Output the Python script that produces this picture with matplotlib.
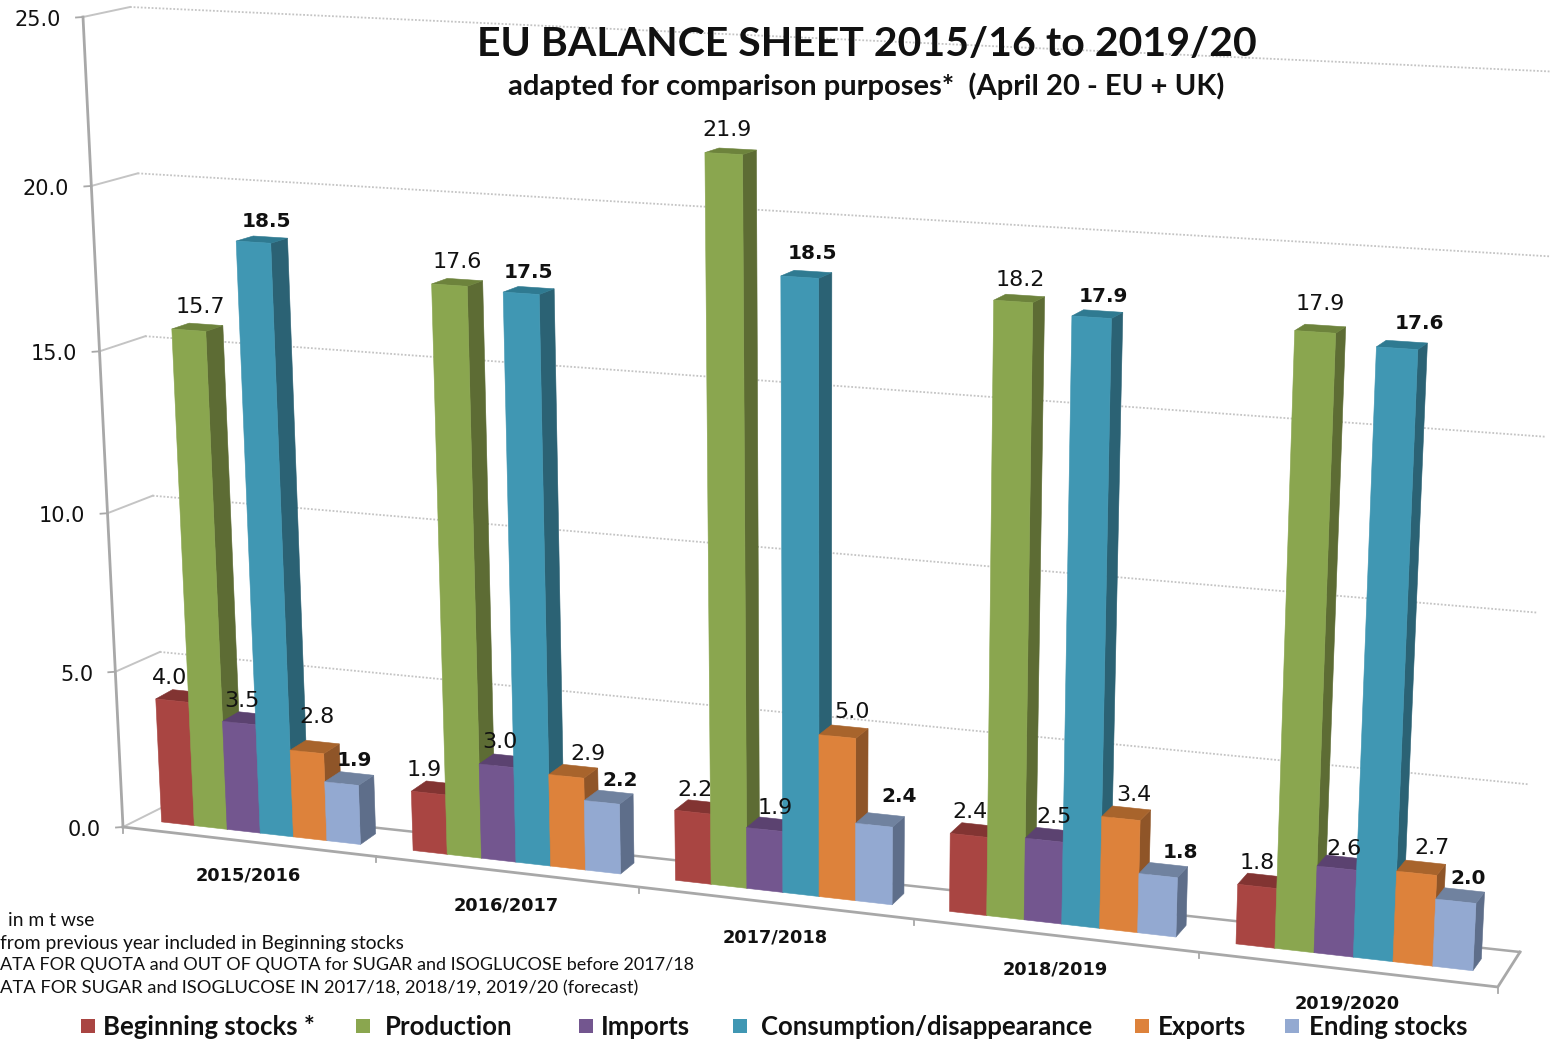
import numpy as np
import matplotlib
matplotlib.use("Agg")
import matplotlib.pyplot as plt
from matplotlib.patches import Polygon, Rectangle

# ---------- data ----------
years = ["2015/2016", "2016/2017", "2017/2018", "2018/2019", "2019/2020"]
beginning_stocks = [4.0, 1.9, 2.2, 2.4, 1.8]
production = [15.7, 17.6, 21.9, 18.2, 17.9]
imports_ = [3.5, 3.0, 1.9, 2.5, 2.6]
consumption = [18.5, 17.5, 18.5, 17.9, 17.6]
exports = [2.8, 2.9, 5.0, 3.4, 2.7]
ending_stocks = [1.9, 2.2, 2.4, 1.8, 2.0]
value_ticks = [0, 5, 10, 15, 20, 25]
series_names = ["Beginning stocks *", "Production", "Imports",
                "Consumption/disappearance", "Exports", "Ending stocks"]
notes = ["in m t wse",
         "from previous year included in Beginning stocks",
         "ATA FOR QUOTA and OUT OF QUOTA for SUGAR and ISOGLUCOSE before 2017/18",
         "ATA FOR SUGAR and ISOGLUCOSE IN 2017/18, 2018/19, 2019/20 (forecast)"]

series = [beginning_stocks, production, imports_, consumption, exports, ending_stocks]
bold_series = {3, 5}

# ---------- styles ----------
front_cols = ["#A94542", "#8AA64F", "#73568F", "#4097B3", "#DD823B", "#93A9D1"]
side_cols = ["#7E3331", "#5D6C34", "#553F6A", "#2B6274", "#8F5528", "#5E6E8A"]
top_cols = ["#823432", "#6D833C", "#5B4270", "#2F7A91", "#A8642C", "#70829F"]
GREY = "#A8A8A8"
LIGHT = "#C4C4C4"
SANS = "Lato"
NUM = "DejaVu Sans"
BAR_SHARE = 0.794
bar_w = BAR_SHARE / 6
# fine placement of the value labels (dx, dy), one row per series, one column per year
label_nudges = [
    [(-11, -1), (-12, -1), (-4, 0), (-5, -1), (-5, -1)],
    [(3, -3), (0, -3), (-4, -4), (1, -1), (0, -8)],
    [(-5, 0), (-4, -2), (4, 1), (4, -1), (3, 3)],
    [(5, -1), (0, -1), (6, -4), (6, -1), (18, -4)],
    [(2, -13), (15, 0), (9, -3), (8, -1), (11, -3)],
    [(5, -1), (11, 0), (19, -6), (17, -1), (8, 0)],
]


def fit_homography(anchors):
    A = []
    for a, b, x, y in anchors:
        A.append([a, b, 1, 0, 0, 0, -a * x, -b * x, -x])
        A.append([0, 0, 0, a, b, 1, -a * y, -b * y, -y])
    _, _, vt = np.linalg.svd(np.array(A, float))
    H = vt[-1].reshape(3, 3)
    return H / H[2, 2]


def apply_h(H, a, b):
    p = H @ np.array([a, b, 1.0])
    return p[0] / p[2], p[1] / p[2]


# plane of the bar fronts: (category position, value) -> figure pixels
front_plane = fit_homography([
    (0, 0, 161, 822), (0, 4, 156, 699),
    (bar_w, 15.7, 172, 328), (bar_w, 0, 194, 826),
    (3 * bar_w, 18.5, 236, 242), (3 * bar_w, 0, 260, 833),
    (BAR_SHARE, 0, 362, 844), (2, 0, 675, 881),
    (2 + bar_w, 21.9, 705, 152), (4, 0, 1235, 943),
    (4 + bar_w, 17.9, 1294, 330), (4 + 3 * bar_w, 17.6, 1377, 348),
    (4 + 3 * bar_w, 0, 1353, 957), (4 + BAR_SHARE, 0, 1474, 971),
])
# back wall: (0..1 along the wall, value)
back_wall = fit_homography([(0, 0, 167, 805), (0, 25, 130, 7), (1, 25, 1562, 72), (1, 0, 1520, 952)])
# side wall: (0 front .. 1 back, value)
side_wall = fit_homography([(0, 0, 123, 827), (0, 25, 83, 17), (1, 25, 130, 7), (1, 0, 167, 805)])


def front(u, v):
    return np.array(apply_h(front_plane, u, v))


def back(u, v):
    f = np.array(front(u, v))
    return f + np.array([(16.5 - 8 * u / 4.8) * (1 + 0.004 * v), -(10.5 + 0.3 * u) + 0.3 * v])


def floor_axis(t):
    x = (123 + 245.6 * t) / (1 - 0.0196 * t)
    return x, 827 + (x - 123) * 160 / 1375


fig = plt.figure(figsize=(15.5, 10.39), dpi=100, facecolor="white")
ax = fig.add_axes([0, 0, 1, 1])
ax.set_xlim(0, 1550)
ax.set_ylim(1039, 0)
ax.axis("off")

# ---------- walls and grid ----------
for v in value_ticks:
    a = apply_h(side_wall, 0, v)
    b = apply_h(side_wall, 1, v)
    c = apply_h(back_wall, 1, v)
    ax.plot([a[0] - 7, a[0]], [a[1] + 0.5, a[1]], color=GREY, lw=1.3, zorder=1)
    ax.plot([a[0], b[0]], [a[1], b[1]], color=LIGHT, lw=1.4, zorder=1)
    if v == 0:
        ax.plot([b[0], c[0]], [b[1], c[1]], color=GREY, lw=1.8, zorder=1)
    else:
        ax.plot([b[0], c[0]], [b[1], c[1]], color=LIGHT, lw=1.3, ls=(0, (1, 1)), zorder=1)
    ax.text(a[0] - 22, a[1] + 3, f"{v:.1f}", ha="right", va="center", fontsize=15, family=NUM, color="#111111")

ax.plot(*zip(apply_h(side_wall, 0, 0), apply_h(side_wall, 0, 25)), color=GREY, lw=2, zorder=1)
p0, p5 = floor_axis(0), floor_axis(5)
corner = apply_h(back_wall, 1, 0)
ax.plot([p0[0], p5[0], corner[0]], [p0[1], p5[1], corner[1]], color=GREY, lw=2, zorder=1)
for k in range(6):
    px, py = floor_axis(k)
    ax.plot([px, px], [py, py + 6], color=GREY, lw=1.3, zorder=1)

# ---------- bars ----------
z = 3
for c, year in enumerate(years):
    for s, vals in enumerate(series):
        v = vals[c]
        u0 = c + s * bar_w
        u1 = u0 + bar_w
        f = [front(u0, 0), front(u1, 0), front(u1, v), front(u0, v)]
        side = [front(u1, 0), back(u1, 0), back(u1, v), front(u1, v)]
        top = [front(u0, v), front(u1, v), back(u1, v), back(u0, v)]
        for poly, col in ((side, side_cols[s]), (top, top_cols[s]), (f, front_cols[s])):
            ax.add_patch(Polygon(poly, closed=True, facecolor=col, edgecolor=col, lw=0.4, zorder=z))
        z += 1

# ---------- value labels ----------
for c, year in enumerate(years):
    for s, vals in enumerate(series):
        v = vals[c]
        um = c + (s + 0.5) * bar_w
        ftop = front(um, v)
        btop = back(um, v)
        nx, ny = label_nudges[s][c]
        lx = (ftop[0] + btop[0]) / 2 + nx
        ly = (ftop[1] + btop[1]) / 2 - 17 + ny
        bold = s in bold_series
        ax.text(lx, ly, f"{v:.1f}", ha="center", va="center", fontsize=14.5 if bold else 16, family=NUM,
                fontweight="bold" if bold else "normal", color="#111111", zorder=200)

# ---------- category labels ----------
for k, year in enumerate(years):
    a = floor_axis(k)
    b = floor_axis(k + 1)
    ax.text((a[0] + b[0]) / 2 - 1, (a[1] + b[1]) / 2 + 34, year, ha="center", va="center",
            fontsize=12.8, fontweight="bold", family=NUM, color="#111111")

# ---------- titles ----------
ax.text(867, 45, "EU BALANCE SHEET 2015/16 to 2019/20", ha="center", va="center",
        fontsize=29.5, fontweight="bold", family=SANS, color="#111111", zorder=300)
ax.text(866, 86, "adapted for comparison purposes*  (April 20 - EU + UK)", ha="center", va="center",
        fontsize=21, fontweight="bold", family=SANS, color="#111111", zorder=300)

# ---------- notes ----------
for (x, y, size), txt in zip([(8, 921, 13.9), (0, 943, 13.9), (0, 965, 13), (0, 988, 13.2)], notes):
    ax.text(x, y, txt, ha="left", va="center", fontsize=size, family=SANS, color="#111111")

# ---------- legend ----------
legend_sq = [81, 356, 579, 733, 1135, 1285]
legend_tx = [103, 385, 601, 761, 1158, 1309]
for s, name in enumerate(series_names):
    ax.add_patch(Rectangle((legend_sq[s], 1019), 14, 14, facecolor=front_cols[s], edgecolor="none"))
    ax.text(legend_tx[s], 1027, name, ha="left", va="center", fontsize=18.5, fontweight="bold",
            family=SANS, color="#111111")

fig.savefig("out.png", dpi=100)
